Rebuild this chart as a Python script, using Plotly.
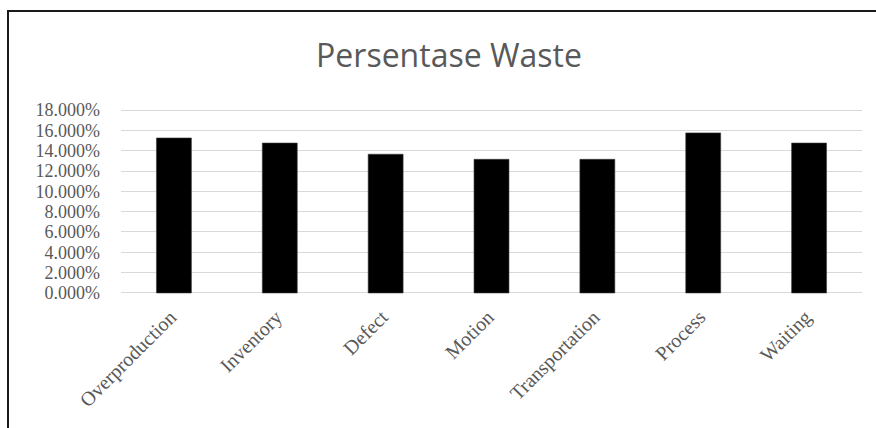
import plotly.graph_objects as go

categories = ["Overproduction", "Inventory", "Defect", "Motion",
              "Transportation", "Process", "Waiting"]
values = [0.1525, 0.1475, 0.1365, 0.1315, 0.1315, 0.1575, 0.1475]
y_ticks = [i * 0.02 for i in range(10)]
y_tick_text = [f"{v*100:.3f}%" for v in y_ticks]
title_text = "Persentase Waste"

W, H = 876, 428
L, R, T, B = 121, 14, 109, 134
pw, ph = W - L - R, H - T - B

def px_x(x):
    return (x - L) / pw

def px_y(y):
    return (H - B - y) / ph

fig = go.Figure(go.Bar(
    x=categories, y=values,
    marker=dict(color="#000000", line=dict(color="#3a3a3a", width=0.6)),
))

fig.update_layout(
    width=W, height=H,
    margin=dict(l=L, r=R, t=T, b=B, pad=0),
    paper_bgcolor="white", plot_bgcolor="white",
    bargap=0.67,
    showlegend=False,
    title=dict(text=title_text, x=449 / W, xref="container", xanchor="center",
               y=1 - 56 / H, yref="container", yanchor="middle",
               font=dict(family="Open Sans", size=32, color="#595959")),
    shapes=[
        dict(type="line", xref="paper", yref="paper",
             x0=px_x(8), x1=px_x(8), y0=px_y(11), y1=px_y(440),
             line=dict(color="#1a1a1a", width=2)),
        dict(type="line", xref="paper", yref="paper",
             x0=px_x(7), x1=px_x(890), y0=px_y(11), y1=px_y(11),
             line=dict(color="#1a1a1a", width=2)),
    ],
)

fig.update_yaxes(
    range=[-0.001, 0.181], tickvals=y_ticks, ticktext=y_tick_text,
    showgrid=True, gridcolor="#d9d9d9", gridwidth=1.3,
    zeroline=False, showline=False,
    ticklabelstandoff=20,
    tickfont=dict(family="Liberation Serif", size=18, color="#595959"),
)
fig.update_xaxes(
    showgrid=False, showline=False, zeroline=False,
    tickangle=-45, ticklabelstandoff=3,
    tickvals=categories, ticktext=[c + "\u00a0" for c in categories],
    tickfont=dict(family="Liberation Serif", size=20, color="#595959"),
)

fig.write_html("out.html")
